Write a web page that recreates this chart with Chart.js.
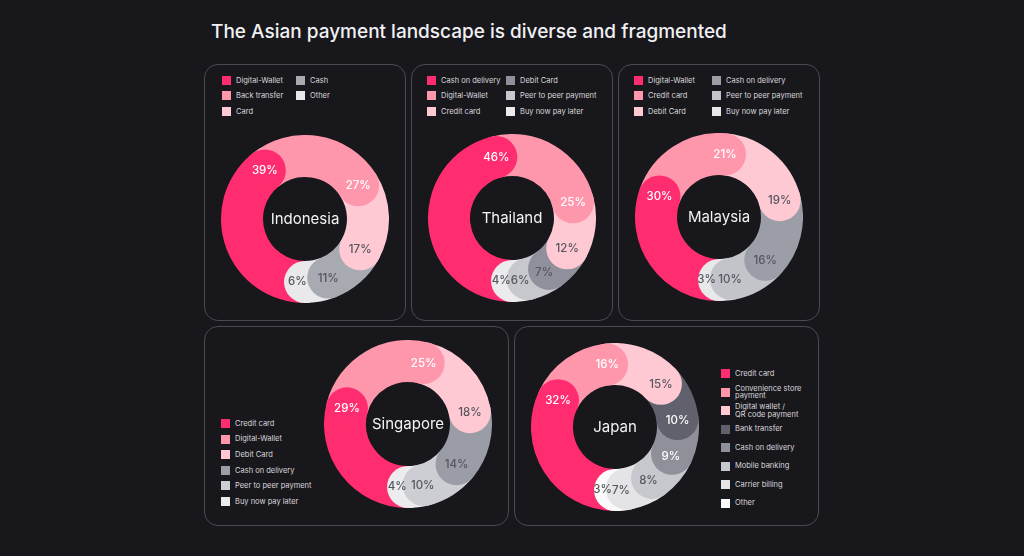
<!DOCTYPE html>
<html><head><meta charset="utf-8">
<script src="https://cdn.jsdelivr.net/npm/chart.js@4.4.1/dist/chart.umd.min.js"></script>
<style>
html,body{margin:0;padding:0;background:#18171c;width:1024px;height:556px;overflow:hidden;font-family:Inter,'Noto Sans',sans-serif;}
.title{position:absolute;left:211px;top:21px;font-size:19px;line-height:22px;color:#f1f1f3;font-weight:500;white-space:nowrap;}
.panel{position:absolute;border:1px solid #4b4a51;border-radius:14px;box-sizing:border-box;}
canvas{position:absolute;}
.li{position:absolute;display:flex;align-items:center;white-space:pre-line;font-size:7.5px;line-height:7.5px;color:#d8d8dc;}
.sw{width:9px;height:9px;margin-right:5px;flex:none;}
</style></head>
<body>
<div class="title">The Asian payment landscape is diverse and fragmented</div>
<script>
// ---- data ----
const indonesiaLabels = ['Digital-Wallet','Back transfer','Card','Cash','Other'];
const indonesiaValues = [39,27,17,11,6];
const thailandLabels = ['Cash on delivery','Digital-Wallet','Credit card','Debit Card','Peer to peer payment','Buy now pay later'];
const thailandValues = [46,25,12,7,6,4];
const malaysiaLabels = ['Digital-Wallet','Credit card','Debit Card','Cash on delivery','Peer to peer payment','Buy now pay later'];
const malaysiaValues = [30,21,19,16,10,3];
const singaporeLabels = ['Credit card','Digital-Wallet','Debit Card','Cash on delivery','Peer to peer payment','Buy now pay later'];
const singaporeValues = [29,25,18,14,10,4];
const japanLabels = ['Credit card','Convenience store\npayment','Digital wallet /\nQR code payment','Bank transfer','Cash on delivery','Mobile banking','Carrier billing','Other'];
const japanValues = [32,16,15,10,9,8,7,3];

// ---- styles ----
const HOT='#ff2d6f', MID='#ff97ac', LIGHT='#ffc9d3';
const DARK='#55565f';
const charts = [
  {name:'Indonesia', labels:indonesiaLabels, values:indonesiaValues,
   colors:[HOT,MID,LIGHT,'#a8aab2','#e9e9ec'], text:['#fff','#fff',DARK,DARK,DARK],
   panel:[204,64,202,257], cx:305, cy:219, legend:{type:'grid', x:222, y:76, colDx:74, dy:15.4}},
  {name:'Thailand', labels:thailandLabels, values:thailandValues,
   colors:[HOT,MID,LIGHT,'#8f909b','#c7c8cd','#ebebee'], text:['#fff','#fff',DARK,DARK,DARK,DARK],
   panel:[411,64,202,257], cx:512, cy:218, legend:{type:'grid', x:427, y:76, colDx:79, dy:15.4}},
  {name:'Malaysia', labels:malaysiaLabels, values:malaysiaValues,
   colors:[HOT,MID,LIGHT,'#9b9da7','#c2c4ca','#e8e8eb'], text:['#fff','#fff',DARK,DARK,DARK,DARK],
   panel:[618,64,202,257], cx:719, cy:217, legend:{type:'grid', x:634, y:76, colDx:78, dy:15.4}},
  {name:'Singapore', labels:singaporeLabels, values:singaporeValues,
   colors:[HOT,MID,LIGHT,'#9a9ca6','#cdced3','#ececef'], text:['#fff','#fff',DARK,DARK,DARK,DARK],
   panel:[204,326,305,200], cx:408, cy:424, legend:{type:'col', x:221, y:419, dy:15.6}},
  {name:'Japan', labels:japanLabels, values:japanValues,
   colors:[HOT,MID,LIGHT,'#60616d','#8f909a','#c7c8cd','#e4e4e7','#fafafa'], text:['#fff','#fff',DARK,'#fff','#fff',DARK,DARK,DARK],
   panel:[514,326,305,200], cx:615, cy:427, legend:{type:'col', x:721, y:369, dy:18.5}}
];

const SIZE = 168;

const capPlugin = {
  id:'caps',
  afterDatasetsDraw(chart){
    const ctx = chart.ctx;
    const meta = chart.getDatasetMeta(0);
    const ds = chart.data.datasets[0];
    const cfg = chart.options.plugins.caps;
    const arcs = meta.data;
    ctx.save();
    // rounded end caps, earlier segments on top
    for (let i = arcs.length-1; i >= 0; i--) {
      const p = arcs[i].getProps(['x','y','startAngle','endAngle','innerRadius','outerRadius'], true);
      const mid = (p.innerRadius+p.outerRadius)/2, r = (p.outerRadius-p.innerRadius)/2;
      ctx.beginPath();
      ctx.arc(p.x+mid*Math.cos(p.endAngle), p.y+mid*Math.sin(p.endAngle), r, 0, Math.PI*2);
      ctx.fillStyle = ds.backgroundColor[i];
      ctx.fill();
    }
    // percentage labels
    ctx.font = '500 11.5px Inter, "Noto Sans", sans-serif';
    ctx.textAlign = 'center'; ctx.textBaseline = 'middle';
    arcs.forEach((a, i) => {
      const p = a.getProps(['x','y','startAngle','endAngle','innerRadius','outerRadius'], true);
      const mid = (p.innerRadius+p.outerRadius)/2, r = (p.outerRadius-p.innerRadius)/2;
      const capAng = r/mid;
      const seg = p.endAngle - p.startAngle;
      const ang = p.endAngle + Math.max(0, 2*capAng - seg)/2.4;
      ctx.fillStyle = cfg.text[i];
      ctx.fillText(ds.data[i] + '%', p.x+mid*Math.cos(ang), p.y+mid*Math.sin(ang)+0.5);
    });
    // centre name
    const p0 = arcs[0].getProps(['x','y'], true);
    ctx.font = '400 15px Inter, "Noto Sans", sans-serif';
    ctx.fillStyle = '#f3f3f5';
    ctx.fillText(cfg.name, p0.x, p0.y+0.5);
    ctx.restore();
  }
};

charts.forEach(c => {
  const pn = document.createElement('div');
  pn.className = 'panel';
  Object.assign(pn.style, {left:c.panel[0]+'px', top:c.panel[1]+'px', width:c.panel[2]+'px', height:c.panel[3]+'px'});
  document.body.appendChild(pn);

  const cv = document.createElement('canvas');
  cv.width = SIZE; cv.height = SIZE;
  Object.assign(cv.style, {left:(c.cx-SIZE/2)+'px', top:(c.cy-SIZE/2)+'px', width:SIZE+'px', height:SIZE+'px'});
  document.body.appendChild(cv);

  // legend
  c.labels.forEach((lab, i) => {
    const it = document.createElement('div');
    it.className = 'li';
    let x, y;
    if (c.legend.type === 'grid') { x = c.legend.x + Math.floor(i/3)*c.legend.colDx; y = c.legend.y + (i%3)*c.legend.dy; }
    else { x = c.legend.x; y = c.legend.y + i*c.legend.dy; }
    it.style.left = x+'px'; it.style.top = y+'px'; it.style.height = '9px';
    const sw = document.createElement('div'); sw.className = 'sw'; sw.style.background = c.colors[i];
    const tx = document.createElement('span'); tx.textContent = lab;
    it.appendChild(sw); it.appendChild(tx);
    document.body.appendChild(it);
  });

  new Chart(cv, {
    type:'doughnut',
    data:{labels:c.labels.map(l=>l.replace('\n',' ')), datasets:[{data:c.values, backgroundColor:c.colors, borderWidth:0}]},
    options:{
      responsive:false, animation:false, events:[], devicePixelRatio:1,
      cutout:'50%', rotation:180,
      layout:{padding:0},
      plugins:{legend:{display:false}, tooltip:{enabled:false}, caps:{name:c.name, text:c.text}}
    },
    plugins:[capPlugin]
  });
});
</script>
</body></html>
